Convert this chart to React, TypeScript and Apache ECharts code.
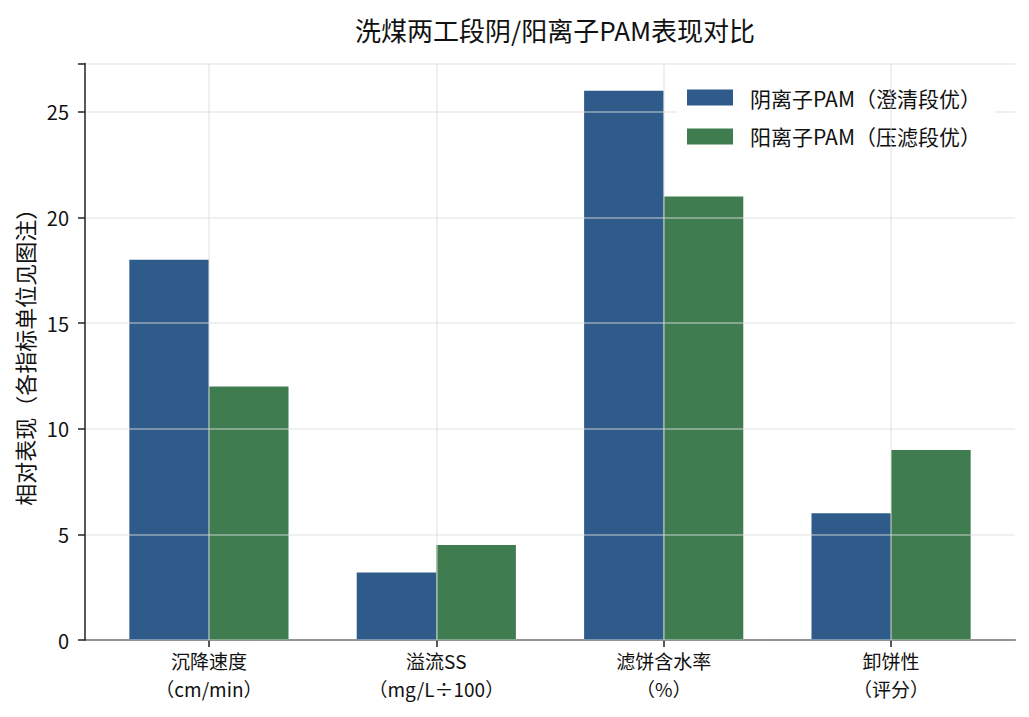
import React, { useEffect, useRef } from "react";
import * as echarts from "echarts";

const categories = ["沉降速度", "溢流SS", "滤饼含水率", "卸饼性"];
const units = ["（cm/min）", "（mg/L÷100）", "（%）", "（评分）"];
const seriesNames = ["阴离子PAM（澄清段优）", "阳离子PAM（压滤段优）"];
const anionValues = [18, 3.2, 26, 6];
const cationValues = [12, 4.5, 21, 9];
const yTicks = [0, 5, 10, 15, 20, 25];

const FONT = "'Noto Sans CJK SC', 'Noto Sans', sans-serif";
const GRID_LINE = "rgba(220,220,220,0.6)";
const X_MIN = -0.545;
const X_MAX = 3.545;

function PamChart() {
  const chartRef = useRef<HTMLDivElement>(null);

  useEffect(() => {
    const myChart = echarts.init(chartRef.current!, null, { renderer: "svg" });
    const idx = categories.map((_, i) => i);
    const option: echarts.EChartsOption = {
      animation: false,
      backgroundColor: "#ffffff",
      textStyle: { fontFamily: FONT },
      title: {
        text: "洗煤两工段阴/阳离子PAM表现对比",
        left: 550,
        textAlign: "center",
        top: 11,
        textStyle: { fontFamily: FONT, fontSize: 26, fontWeight: "normal", color: "#111" },
      },
      legend: {
        orient: "vertical",
        left: 677,
        top: 82,
        padding: [5, 14, 8, 10],
        backgroundColor: "#ffffff",
        itemWidth: 46,
        itemHeight: 16,
        itemGap: 18,
        icon: "rect",
        textStyle: { fontFamily: FONT, fontSize: 21, color: "#111", padding: [0, 0, 0, 12] },
        data: seriesNames,
      },
      grid: { left: 85, right: 14, top: 63.4, bottom: 77 },
      xAxis: [
        {
          type: "value",
          min: X_MIN,
          max: X_MAX,
          splitLine: { show: false },
          axisLine: { show: true, onZero: false, lineStyle: { color: "#222", width: 1.5 } },
          axisTick: { show: true, customValues: idx, length: 7, lineStyle: { color: "#222", width: 1.5 } },
          axisLabel: {
            customValues: idx,
            margin: 11,
            fontFamily: FONT,
            fontSize: 19,
            color: "#111",
            formatter: (v: number) => categories[Math.round(v)],
          },
        },
        {
          type: "value",
          position: "bottom",
          min: X_MIN,
          max: X_MAX,
          splitLine: { show: false },
          axisLine: { show: false, onZero: false },
          axisTick: { show: false },
          axisLabel: {
            customValues: idx,
            margin: 39,
            fontFamily: FONT,
            fontSize: 19,
            color: "#111",
            formatter: (v: number) => units[Math.round(v)],
          },
        },
      ],
      yAxis: {
        type: "value",
        min: 0,
        max: 27.3,
        interval: 5,
        z: 3,
        name: "相对表现（各指标单位见图注）",
        nameLocation: "middle",
        nameGap: 50,
        nameTextStyle: { fontFamily: FONT, fontSize: 22, color: "#111" },
        axisLine: { show: true, onZero: false, lineStyle: { color: "#222", width: 1.5 } },
        axisTick: { show: true, length: 7, lineStyle: { color: "#222", width: 1.5 } },
        axisLabel: {
          margin: 16,
          fontFamily: FONT,
          fontSize: 20,
          color: "#111",
          formatter: (v: number) => (yTicks.includes(v) ? String(v) : ""),
        },
        splitLine: { show: true, lineStyle: { color: GRID_LINE, width: 1.5 } },
      },
      series: [
        {
          name: seriesNames[0],
          type: "bar",
          barWidth: "35%",
          barGap: "0%",
          itemStyle: { color: "#2e5b8a" },
          data: anionValues.map((v, i) => [i, v]),
        },
        {
          name: seriesNames[1],
          type: "bar",
          barWidth: "35%",
          barGap: "0%",
          itemStyle: { color: "#3f7c4f" },
          data: cationValues.map((v, i) => [i, v]),
        },
        {
          name: "grid",
          type: "line",
          data: [],
          silent: true,
          markLine: {
            silent: true,
            symbol: "none",
            z: 5,
            label: { show: false },
            lineStyle: { color: GRID_LINE, width: 1.5, type: "solid" },
            data: idx.map((i) => ({ xAxis: i })),
          },
        },
      ],
    };

    myChart.setOption(option);

    return () => {
      myChart.dispose();
    };
  }, []);

  return (
    <div
      ref={chartRef}
      style={{ position: "fixed", left: 0, top: 0, width: 1029, height: 717 }}
    />
  );
}

export default function App() {
  return <PamChart />;
}
